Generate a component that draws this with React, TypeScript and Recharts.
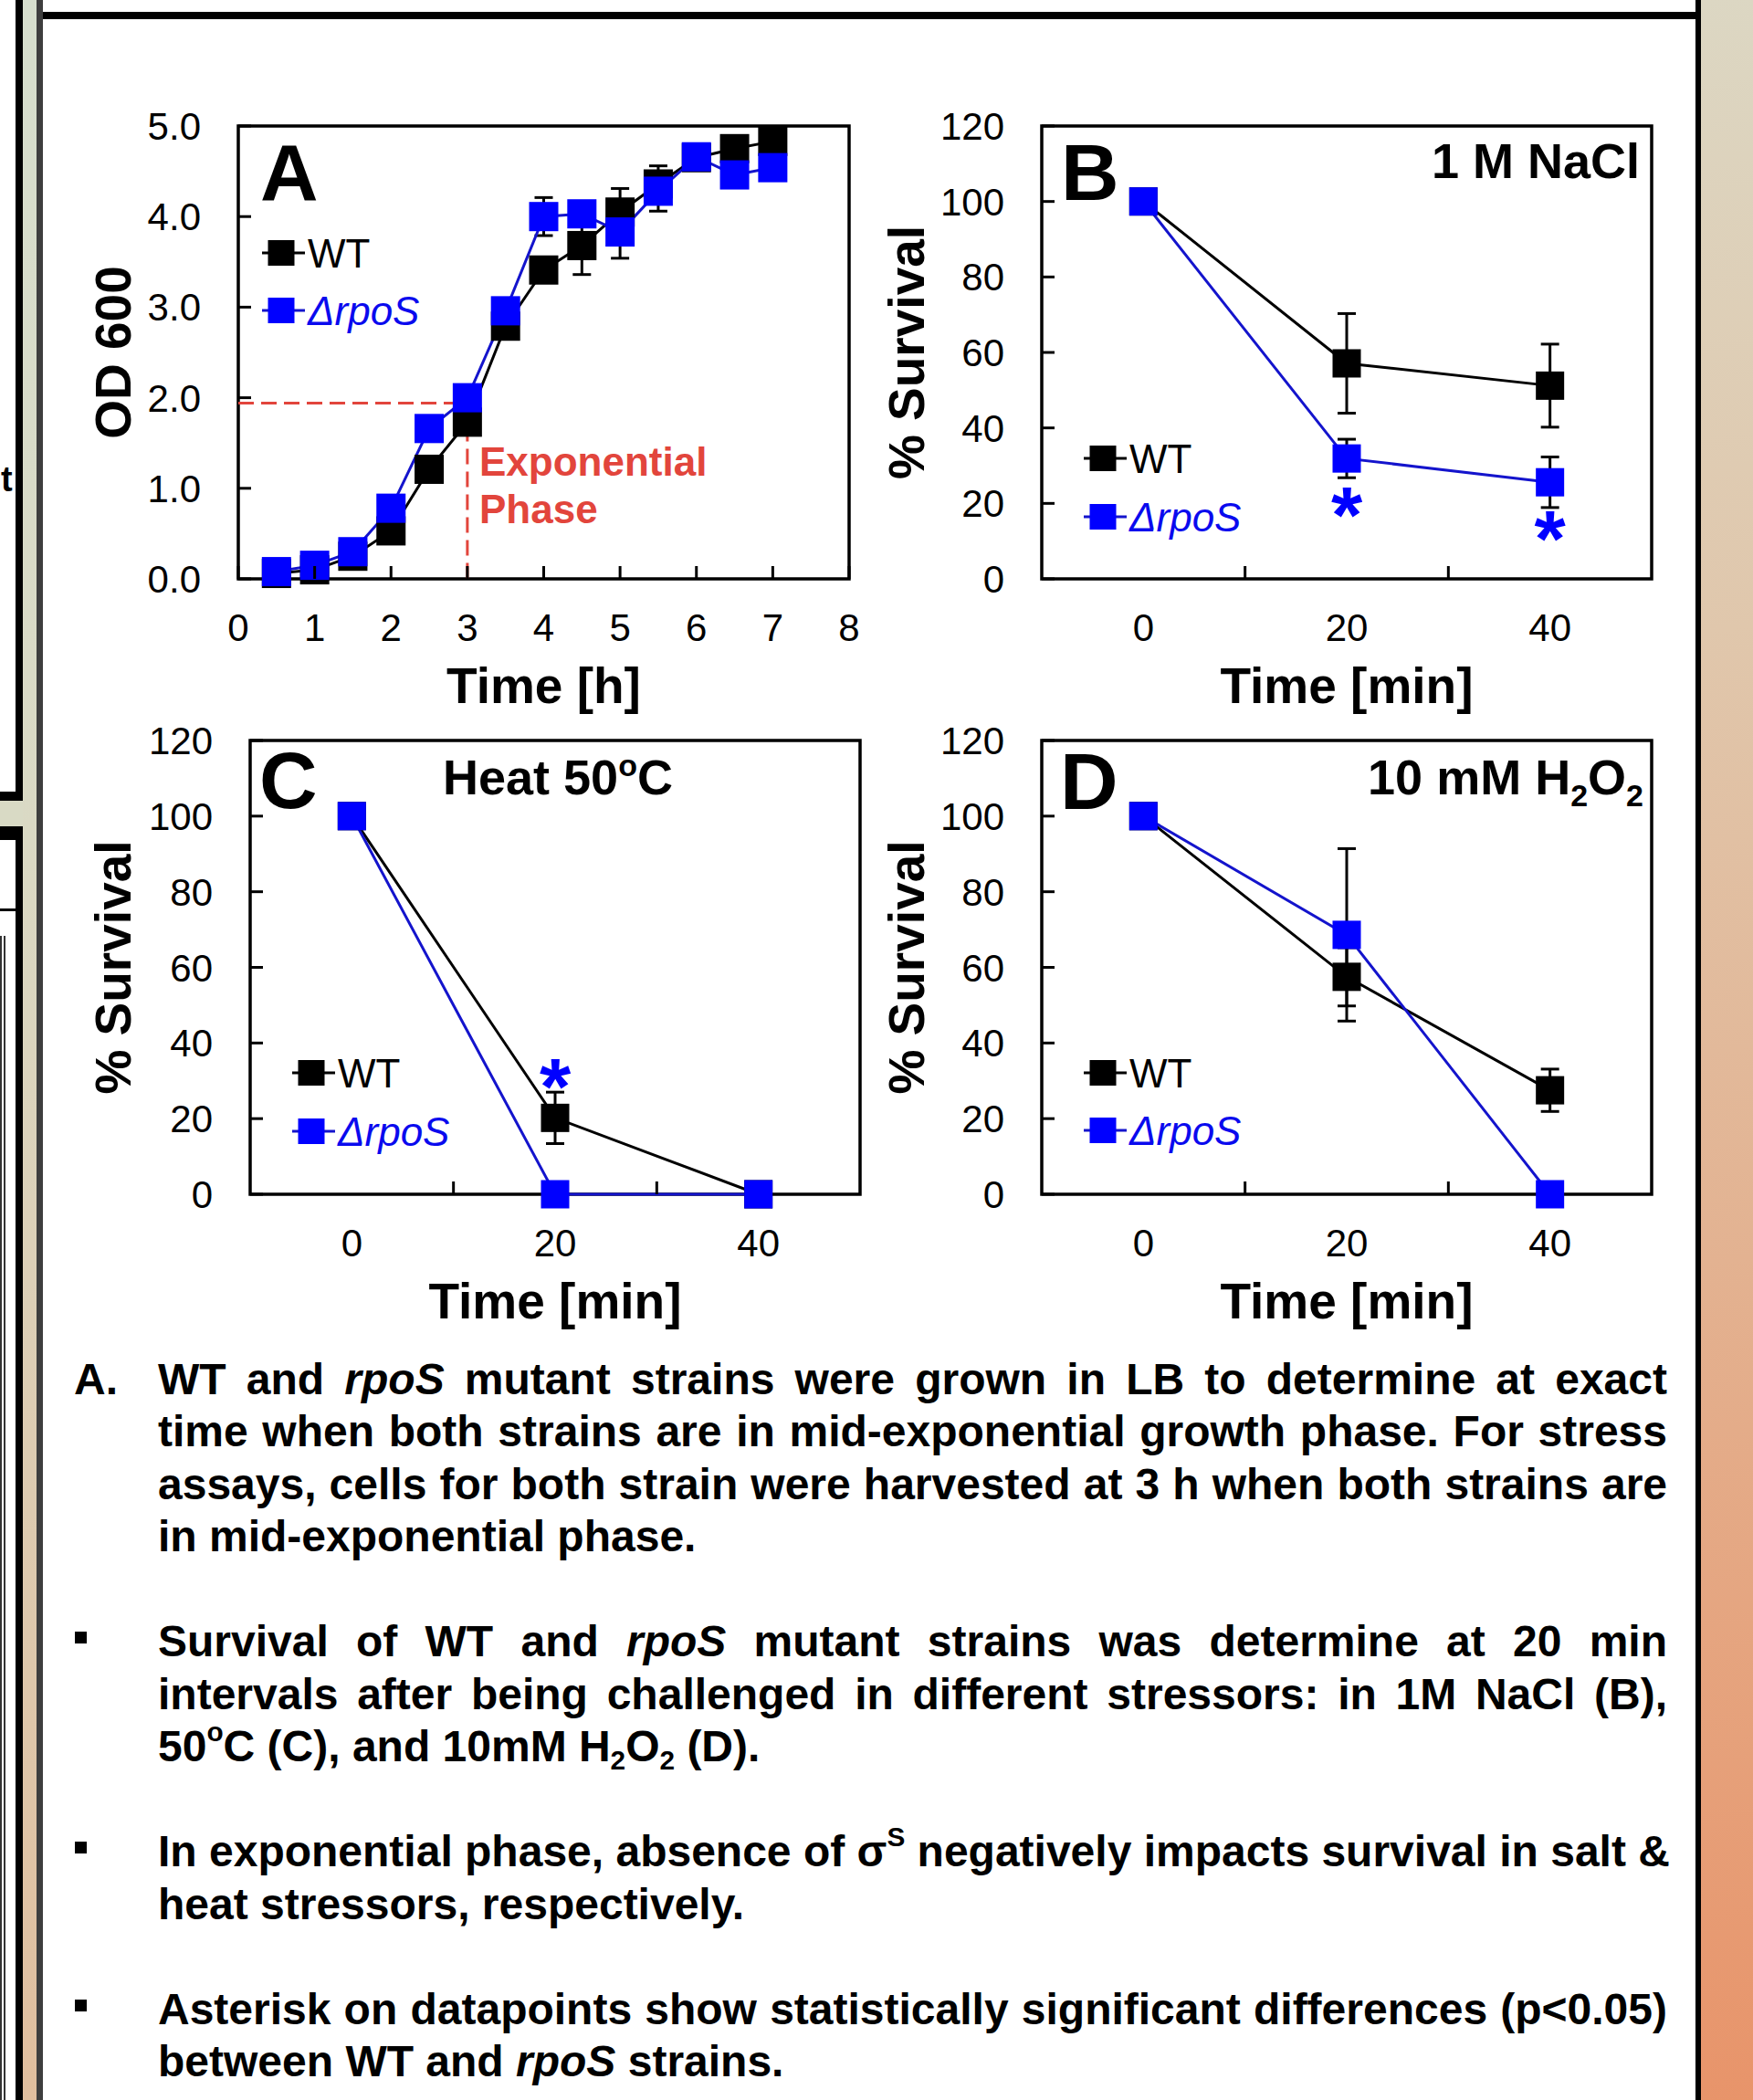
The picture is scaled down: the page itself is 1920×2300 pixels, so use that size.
import React from 'react';
import { LineChart, Line, XAxis, YAxis, ErrorBar, ReferenceArea, ReferenceLine, Legend } from 'recharts';

const FONT = '"Liberation Sans", Arial, Helvetica, sans-serif';
const BLACK = '#000000';
const BLUE_MARK = '#0000FF';
const BLUE_LINE = '#1414CC';
const BLUE_TEXT = '#0A0AEE';
const RED = '#E2453C';

// ---------------- data ----------------
// Panel A: growth curve (OD600 vs time in hours)
const growthHours = [0.5, 1, 1.5, 2, 2.5, 3, 3.5, 4, 4.5, 5, 5.5, 6, 6.5, 7];
const growthWT = [0.06, 0.1, 0.25, 0.53, 1.21, 1.73, 2.79, 3.41, 3.68, 4.05, 4.36, 4.65, 4.75, 4.83];
const growthWTErr = [0, 0, 0, 0, 0, 0, 0, 0, 0.32, 0.26, 0.2, 0, 0, 0];
const growthRpoS = [0.08, 0.15, 0.3, 0.78, 1.66, 2.0, 2.96, 4.0, 4.03, 3.83, 4.28, 4.66, 4.46, 4.54];
const growthRpoSErr = [0, 0, 0, 0, 0, 0, 0, 0.21, 0, 0.29, 0.22, 0, 0, 0];
const odTicks = [0, 1, 2, 3, 4, 5];
const hourTicks = [0, 1, 2, 3, 4, 5, 6, 7, 8];
const hourDomain = [0, 8];
const odDomain = [0, 5];
const exponentialHour = 3;
const exponentialOD = 1.94;

// Panels B-D: survival (% vs minutes)
const stressMinutes = [0, 20, 40];
const minuteLabelTicks = [0, 20, 40];
const minuteMarkTicks = [10, 30];
const minuteDomain = [-10, 50];
const survivalTicks = [0, 20, 40, 60, 80, 100, 120];
const survivalDomain = [0, 120];

const saltWT = [100, 57.1, 51.2];
const saltWTErr = [0, 13.2, 11.0];
const saltRpoS = [100, 31.9, 25.6];
const saltRpoSErr = [0, 5.1, 6.7];
const saltRpoSSig = ['', '*', '*'];

const heatWT = [100, 20.2, 0];
const heatWTErr = [0, 6.8, 0];
const heatWTSig = ['', '*', ''];
const heatRpoS = [100, 0, 0];
const heatRpoSErr = [0, 0, 0];

const peroxWT = [100, 57.5, 27.5];
const peroxWTErr = [0, 7.7, 5.6];
const peroxRpoS = [100, 68.6, 0];
const peroxRpoSErr = [0, 22.8, 0];

const buildRows = (
  t: number[], wt: number[], wtErr: number[], rpo: number[], rpoErr: number[],
  wtSig?: string[], rpoSig?: string[]
) =>
  t.map((x, i) => ({
    t: x,
    wt: wt[i],
    wtErr: wtErr[i],
    rpo: rpo[i],
    rpoErr: rpoErr[i],
    wtSig: wtSig ? wtSig[i] : '',
    rpoSig: rpoSig ? rpoSig[i] : '',
  }));

const growthRows = buildRows(growthHours, growthWT, growthWTErr, growthRpoS, growthRpoSErr);
const saltRows = buildRows(stressMinutes, saltWT, saltWTErr, saltRpoS, saltRpoSErr, undefined, saltRpoSSig);
const heatRows = buildRows(stressMinutes, heatWT, heatWTErr, heatRpoS, heatRpoSErr, heatWTSig, undefined);
const peroxRows = buildRows(stressMinutes, peroxWT, peroxWTErr, peroxRpoS, peroxRpoSErr);

// ---------------- styling helpers ----------------
const TICK_FS = 42;
const TICK_LEN = 14;
const ASTER_FS = 88;

type SeriesCfg = {
  key: string; errKey: string; sigKey: string; name: string;
  mark: string; line: string; text: string; italic: boolean;
};
const SERIES: SeriesCfg[] = [
  { key: 'wt', errKey: 'wtErr', sigKey: 'wtSig', name: 'WT', mark: BLACK, line: BLACK, text: BLACK, italic: false },
  { key: 'rpo', errKey: 'rpoErr', sigKey: 'rpoSig', name: '\u0394rpoS', mark: BLUE_MARK, line: BLUE_LINE, text: BLUE_TEXT, italic: true },
];

const makeXTick = (labelled: number[], marked: number[]) => (props: any) => {
  const { x, y, payload } = props;
  const v = payload?.value;
  return (
    <g>
      {marked.includes(v) && (
        <line x1={x} x2={x} y1={y} y2={y - TICK_LEN} stroke={BLACK} strokeWidth={3} />
      )}
      {labelled.includes(v) && (
        <text x={x} y={y + 38 + 0.716 * TICK_FS} textAnchor="middle" fontSize={TICK_FS} fontFamily={FONT} fill={BLACK}>
          {String(v)}
        </text>
      )}
    </g>
  );
};

const makeYTick = (fmt: (v: number) => string) => (props: any) => {
  const { x, y, payload } = props;
  return (
    <g>
      <line x1={x} x2={x + TICK_LEN} y1={y} y2={y} stroke={BLACK} strokeWidth={3} />
      <text x={x - 41} y={y + 0.358 * TICK_FS} textAnchor="end" fontSize={TICK_FS} fontFamily={FONT} fill={BLACK}>
        {fmt(payload?.value)}
      </text>
    </g>
  );
};

const makeDot = (fill: string, size: number, sigKey: string, sigShift: number) => (props: any) => {
  const { cx, cy, payload, index } = props;
  if (typeof cx !== 'number' || typeof cy !== 'number') return <g key={`e${index}`} />;
  const sig = payload ? payload[sigKey] : '';
  return (
    <g key={`d${index}`}>
      <rect x={cx - size / 2} y={cy - size / 2} width={size} height={size} fill={fill} />
      {sig ? (
        <text x={cx} y={cy + sigShift + 0.565 * ASTER_FS} textAnchor="middle" fontSize={ASTER_FS}
          fontWeight="bold" fontFamily={FONT} fill={BLUE_MARK}>
          {sig}
        </text>
      ) : null}
    </g>
  );
};

function LegendGlyphs({ gap }: { gap: number }) {
  return (
    <svg width={260} height={40 + gap} style={{ overflow: 'visible', display: 'block' }}>
      {SERIES.map((s, i) => {
        const cy = 20 + i * gap;
        return (
          <g key={s.key}>
            <line x1={0} x2={47} y1={cy} y2={cy} stroke={s.line} strokeWidth={3} />
            <rect x={6.5} y={cy - 14} width={29} height={28} fill={s.mark} />
            <text x={50} y={cy + 15.5} fontSize={44} fontFamily={FONT}
              fontStyle={s.italic ? 'italic' : 'normal'} fill={s.text}>
              {s.name}
            </text>
          </g>
        );
      })}
    </svg>
  );
}

// ---------------- panels ----------------
const Y_AXIS_W = 200;
const M_TOP = 40;
const M_RIGHT = 30;
const X_AXIS_H = 170;

type PanelCfg = {
  id: string;
  plotLeft: number; plotTop: number; plotW: number; plotH: number;
  data: any[];
  xDomain: number[]; xTicks: number[]; xLabelTicks: number[]; xMarkTicks: number[];
  yDomain: number[]; yTicks: number[]; yFmt: (v: number) => string;
  sigShift: number;
  legendX: number; legendY: number; legendGap: number;
  markSize: number;
  yTitle: string; yTitleX: number; xTitle: string;
  letter: string; letterX: number; letterY: number;
  extra?: React.ReactNode;
};

function Panel({ p }: { p: PanelCfg }) {
  const left = p.plotLeft - Y_AXIS_W;
  const top = p.plotTop - M_TOP;
  const width = Y_AXIS_W + p.plotW + M_RIGHT;
  const height = M_TOP + p.plotH + X_AXIS_H;
  return (
    <div style={{ position: 'absolute', left, top, width, height }}>
      <LineChart width={width} height={height} data={p.data}
        margin={{ top: M_TOP, right: M_RIGHT, bottom: 0, left: 0 }}>
        <XAxis type="number" dataKey="t" domain={p.xDomain} ticks={p.xTicks} interval={0}
          height={X_AXIS_H} axisLine={false} tickLine={false} tickSize={0} tickMargin={0}
          tick={makeXTick(p.xLabelTicks, p.xMarkTicks)} />
        <YAxis type="number" domain={p.yDomain} ticks={p.yTicks} interval={0} width={Y_AXIS_W}
          axisLine={false} tickLine={false} tickSize={0} tickMargin={0}
          tick={makeYTick(p.yFmt)} />
        <ReferenceArea x1={p.xDomain[0]} x2={p.xDomain[1]} y1={p.yDomain[0]} y2={p.yDomain[1]}
          fill="none" fillOpacity={0} stroke={BLACK} strokeWidth={3.5} ifOverflow="visible" />
        {p.extra}
        {SERIES.map((s) => (
          <Line key={s.key} type="linear" dataKey={s.key} name={s.name} stroke={s.line} strokeWidth={3}
            dot={makeDot(s.mark, p.markSize, s.sigKey, p.sigShift)} activeDot={false}
            isAnimationActive={false}>
            <ErrorBar dataKey={s.errKey} width={10} strokeWidth={3} stroke={BLACK} direction="y" />
          </Line>
        ))}
        <Legend layout="vertical" align="center" verticalAlign="middle"
          wrapperStyle={{ left: p.legendX - left, top: p.legendY - top - 20, width: 260, height: 40 + p.legendGap }}
          content={() => <LegendGlyphs gap={p.legendGap} />} />
      </LineChart>
    </div>
  );
}

const fmt1 = (v: number) => v.toFixed(1);
const fmt0 = (v: number) => String(v);

const PANELS: PanelCfg[] = [
  {
    id: 'A', plotLeft: 261, plotTop: 138, plotW: 669, plotH: 496, data: growthRows,
    xDomain: hourDomain, xTicks: hourTicks, xLabelTicks: hourTicks, xMarkTicks: hourTicks,
    yDomain: odDomain, yTicks: odTicks, yFmt: fmt1, sigShift: 0,
    legendX: 287, legendY: 277, legendGap: 63, markSize: 32,
    yTitle: 'OD 600', yTitleX: 143, xTitle: 'Time [h]',
    letter: 'A', letterX: 285, letterY: 219,
    extra: (
      <>
        <ReferenceLine segment={[{ x: hourDomain[0], y: exponentialOD }, { x: exponentialHour, y: exponentialOD }]}
          stroke={RED} strokeWidth={3} strokeDasharray="17 8" ifOverflow="visible" />
        <ReferenceLine segment={[{ x: exponentialHour, y: exponentialOD }, { x: exponentialHour, y: odDomain[0] }]}
          stroke={RED} strokeWidth={3} strokeDasharray="17 8" ifOverflow="visible" />
      </>
    ),
  },
  {
    id: 'B', plotLeft: 1141, plotTop: 138, plotW: 668, plotH: 496, data: saltRows,
    xDomain: minuteDomain, xTicks: [...minuteLabelTicks, ...minuteMarkTicks].sort((a, b) => a - b),
    xLabelTicks: minuteLabelTicks, xMarkTicks: minuteMarkTicks,
    yDomain: survivalDomain, yTicks: survivalTicks, yFmt: fmt0, sigShift: 42,
    legendX: 1187, legendY: 502, legendGap: 64, markSize: 31,
    yTitle: '% Survival', yTitleX: 1012, xTitle: 'Time [min]',
    letter: 'B', letterX: 1162, letterY: 219,
  },
  {
    id: 'C', plotLeft: 274, plotTop: 811, plotW: 668, plotH: 497, data: heatRows,
    xDomain: minuteDomain, xTicks: [...minuteLabelTicks, ...minuteMarkTicks].sort((a, b) => a - b),
    xLabelTicks: minuteLabelTicks, xMarkTicks: minuteMarkTicks,
    yDomain: survivalDomain, yTicks: survivalTicks, yFmt: fmt0, sigShift: -54,
    legendX: 320, legendY: 1175, legendGap: 64, markSize: 31,
    yTitle: '% Survival', yTitleX: 143, xTitle: 'Time [min]',
    letter: 'C', letterX: 284, letterY: 885,
  },
  {
    id: 'D', plotLeft: 1141, plotTop: 811, plotW: 668, plotH: 497, data: peroxRows,
    xDomain: minuteDomain, xTicks: [...minuteLabelTicks, ...minuteMarkTicks].sort((a, b) => a - b),
    xLabelTicks: minuteLabelTicks, xMarkTicks: minuteMarkTicks,
    yDomain: survivalDomain, yTicks: survivalTicks, yFmt: fmt0, sigShift: 0,
    legendX: 1187, legendY: 1175, legendGap: 63, markSize: 31,
    yTitle: '% Survival', yTitleX: 1012, xTitle: 'Time [min]',
    letter: 'D', letterX: 1161, letterY: 886,
  },
];

function Annotations() {
  return (
    <svg width={1920} height={2300} style={{ position: 'absolute', left: 0, top: 0, pointerEvents: 'none' }}
      fontFamily={FONT}>
      {PANELS.map((p) => {
        const cy = p.plotTop + p.plotH / 2;
        const cx = p.plotLeft + p.plotW / 2;
        return (
          <g key={p.id}>
            <text transform={`rotate(-90 ${p.yTitleX} ${cy})`} x={p.yTitleX} y={cy} textAnchor="middle"
              fontSize={55} fontWeight="bold" fill={BLACK}>{p.yTitle}</text>
            <text x={cx} y={p.plotTop + p.plotH + 136} textAnchor="middle" fontSize={55} fontWeight="bold"
              fill={BLACK}>{p.xTitle}</text>
            <text x={p.letterX} y={p.letterY} fontSize={88} fontWeight="bold" fill={BLACK}>{p.letter}</text>
          </g>
        );
      })}
      <text x={525} y={521} fontSize={44} fontWeight="bold" fill={RED}>Exponential</text>
      <text x={525} y={573} fontSize={44} fontWeight="bold" fill={RED}>Phase</text>
      <text x={1796} y={195} textAnchor="end" fontSize={54} fontWeight="bold" fill={BLACK}>1 M NaCl</text>
      <text x={485} y={870} fontSize={54} fontWeight="bold" fill={BLACK}>
        Heat 50<tspan dy={-20} fontSize={34}>o</tspan><tspan dy={20}>C</tspan>
      </text>
      <text x={1800} y={870} textAnchor="end" fontSize={54} fontWeight="bold" fill={BLACK}>
        10 mM H<tspan dy={13} fontSize={34}>2</tspan><tspan dy={-13}>O</tspan><tspan dy={13} fontSize={34}>2</tspan>
      </text>
    </svg>
  );
}

// ---------------- caption text ----------------
const supStyle: React.CSSProperties = { fontSize: '0.62em', position: 'relative', top: '-0.75em', lineHeight: 0 };
const subStyle: React.CSSProperties = { fontSize: '0.62em', position: 'relative', top: '0.3em', lineHeight: 0 };

function Caption() {
  const TOP = 1481.6;
  const LH = 57.5;
  const lines: { n: number; m?: string; j: boolean; c: React.ReactNode }[] = [
    { n: 0, m: 'A.', j: true, c: <>WT and <i>rpoS</i> mutant strains were grown in LB to determine at exact</> },
    { n: 1, j: true, c: <>time when both strains are in mid-exponential growth phase. For stress</> },
    { n: 2, j: true, c: <>assays, cells for both strain were harvested at 3 h when both strains are</> },
    { n: 3, j: false, c: <>in mid-exponential phase.</> },
    { n: 5, m: 'b', j: true, c: <>Survival of WT and <i>rpoS</i> mutant strains was determine at 20 min</> },
    { n: 6, j: true, c: <>intervals after being challenged in different stressors: in 1M NaCl (B),</> },
    { n: 7, j: false, c: <>50<span style={supStyle}>o</span>C (C), and 10mM H<span style={subStyle}>2</span>O<span style={subStyle}>2</span> (D).</> },
    { n: 9, m: 'b', j: true, c: <>In exponential phase, absence of {'\u03C3'}<span style={supStyle}>S</span> negatively impacts survival in salt &amp;</> },
    { n: 10, j: false, c: <>heat stressors, respectively.</> },
    { n: 12, m: 'b', j: true, c: <>Asterisk on datapoints show statistically significant differences (p&lt;0.05)</> },
    { n: 13, j: false, c: <>between WT and <i>rpoS</i> strains.</> },
  ];
  return (
    <>
      {lines.map((l) => (
        <div key={l.n} style={{
          position: 'absolute', left: 173, width: 1653, top: TOP + l.n * LH, height: LH,
          lineHeight: `${LH}px`, fontSize: 48, fontWeight: 'bold', fontFamily: FONT, color: BLACK,
          whiteSpace: 'nowrap', textAlign: l.j ? 'justify' : 'left',
          textAlignLast: l.j ? 'justify' : 'auto',
        } as React.CSSProperties}>
          {l.m === 'A.' && <span style={{ position: 'absolute', left: -92, top: 0 }}>A.</span>}
          {l.m === 'b' && <span style={{ position: 'absolute', left: -91, top: 18.4, width: 13, height: 13, background: BLACK }} />}
          {l.c}
        </div>
      ))}
    </>
  );
}

// ---------------- frame ----------------
function Frame() {
  const abs = (s: React.CSSProperties): React.CSSProperties => ({ position: 'absolute', ...s });
  return (
    <>
      {/* right gradient */}
      <div style={abs({ left: 1863, top: 0, width: 57, height: 2300, background: 'linear-gradient(172deg, #DCD7C3 0%, #E0C7AC 30%, #E3B291 60%, #E8946A 100%)' })} />
      {/* left light band */}
      <div style={abs({ left: 25, top: 0, width: 15, height: 2300, background: 'linear-gradient(180deg, #D6DECD 0%, #DAD9C4 40%, #E0BE9E 100%)' })} />
      <div style={abs({ left: 0, top: 877, width: 25, height: 28, background: '#D9DAC5' })} />
      {/* left neighbour panel bits */}
      <div style={abs({ left: 17, top: 0, width: 8, height: 877, background: BLACK })} />
      <div style={abs({ left: 0, top: 867, width: 25, height: 10, background: BLACK })} />
      <div style={abs({ left: 0, top: 905, width: 25, height: 15, background: BLACK })} />
      <div style={abs({ left: 17, top: 905, width: 8, height: 1395, background: BLACK })} />
      <div style={abs({ left: 0, top: 995, width: 17, height: 3, background: BLACK })} />
      <div style={abs({ left: 0, top: 1025, width: 1.5, height: 1275, background: '#333' })} />
      <div style={abs({ left: 4, top: 1025, width: 1.5, height: 1275, background: '#333' })} />
      <div style={abs({ left: 1, top: 500, fontSize: 38, fontWeight: 'bold', fontFamily: FONT, lineHeight: '50px' })}>t</div>
      {/* main frame */}
      <div style={abs({ left: 40, top: 0, width: 7, height: 2300, background: '#3E3E3E' })} />
      <div style={abs({ left: 47, top: 13, width: 1810, height: 8, background: BLACK })} />
      <div style={abs({ left: 1857, top: 0, width: 6, height: 2300, background: BLACK })} />
    </>
  );
}

export default function App() {
  return (
    <div style={{ position: 'absolute', left: 0, top: 0, width: 1920, height: 2300, background: '#FFFFFF', overflow: 'hidden', fontFamily: FONT }}>
      <Frame />
      {PANELS.map((p) => <Panel key={p.id} p={p} />)}
      <Annotations />
      <Caption />
    </div>
  );
}
